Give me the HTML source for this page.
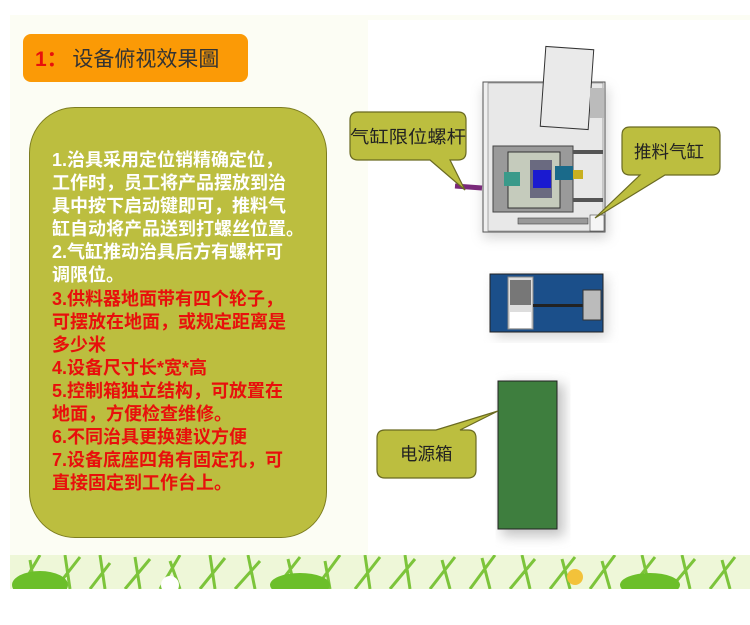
<!DOCTYPE html>
<html><head><meta charset="utf-8"><style>
body{margin:0;width:750px;height:625px;background:#fff;position:relative;overflow:hidden;font-family:"Liberation Sans","Noto Sans CJK SC",sans-serif}
.a{position:absolute}
.txt{left:52px;top:149px;width:290px;color:#fff;font-weight:bold;font-size:18px;line-height:23.1px;white-space:nowrap;font-family:"Liberation Sans","Noto Sans CJK SC",sans-serif}
.r{color:#e8100c}
</style></head><body>
<div class="a" style="left:10px;top:15px;width:740px;height:573px;background:#fcfdf4"></div>
<div class="a" style="left:368px;top:20px;width:382px;height:540px;background:#fff"></div>
<svg class="a" style="left:10px;top:555px" width="740" height="34">
<rect x="0" y="0" width="740" height="34" fill="#eef7d8"/>
<g stroke="#7cc43a" stroke-width="3" fill="none">
<path d="M10 34 L30 0 M25 34 L20 5 M45 34 L70 2 M60 34 L55 0 M80 34 L100 8 M95 34 L90 0 M115 34 L140 4 M130 34 L125 2 M150 34 L170 0 M170 34 L160 6 M190 34 L215 3 M205 34 L200 0 M225 34 L250 6 M245 34 L238 0 M265 34 L290 2 M285 34 L278 4 M305 34 L330 0 M320 34 L315 6 M345 34 L370 2 M360 34 L355 0 M380 34 L405 4 M400 34 L395 0 M420 34 L445 2 M440 34 L432 5 M460 34 L485 0 M480 34 L472 3 M500 34 L525 4 M520 34 L512 0 M540 34 L565 2 M560 34 L552 4 M580 34 L605 0 M600 34 L592 6 M620 34 L645 2 M640 34 L632 0 M660 34 L685 4 M680 34 L672 0 M700 34 L725 2 M720 34 L712 5"/>
</g>
<ellipse cx="30" cy="30" rx="28" ry="14" fill="#6cbf2a"/><ellipse cx="290" cy="30" rx="30" ry="12" fill="#6cbf2a"/><ellipse cx="640" cy="30" rx="30" ry="12" fill="#6cbf2a"/>
<circle cx="565" cy="22" r="8" fill="#f3c23a"/><circle cx="160" cy="30" r="9" fill="#fff"/>
</svg>
<div class="a" style="left:23px;top:34px;width:225px;height:48px;background:#fb9a06;border-radius:8px"></div>
<div class="a" style="left:35px;top:43px;font-size:21px;color:#333;font-family:'Noto Sans CJK SC',sans-serif;line-height:30px"><span style="color:#e8100c;font-weight:bold;font-family:'Liberation Sans',sans-serif">1：</span> 设备俯视效果圖</div>
<div class="a" style="left:29px;top:107px;width:296px;height:429px;background:#bcbe3f;border:1.5px solid #7d7d20;border-radius:46px"></div>
<div class="a txt">1.治具采用定位销精确定位，<br>工作时，员工将产品摆放到治<br>具中按下启动键即可，推料气<br>缸自动将产品送到打螺丝位置。<br>2.气缸推动治具后方有螺杆可<br>调限位。<br><span class="r">3.供料器地面带有四个轮子，<br>可摆放在地面，或规定距离是<br>多少米<br>4.设备尺寸长*宽*高<br>5.控制箱独立结构，可放置在<br>地面，方便检查维修。<br>6.不同治具更换建议方便<br>7.设备底座四角有固定孔，可<br>直接固定到工作台上。</span></div>
<svg class="a" style="left:0;top:0" width="750" height="625">
<defs><filter id="s"><feGaussianBlur stdDeviation="6"/></filter></defs>
<rect x="483" y="88" width="125" height="150" fill="#999" opacity=".4" filter="url(#s)"/>
<rect x="483" y="82" width="122" height="150" fill="#efefef" stroke="#555"/>
<rect x="488" y="83" width="115" height="148" fill="#e8e8e8" stroke="#777" stroke-width=".6"/>
<rect x="543" y="48" width="48" height="80" fill="#eaeaea" stroke="#333" transform="rotate(4 567 88)"/>
<rect x="590" y="88" width="14" height="30" fill="#bbb"/>
<rect x="493" y="146" width="80" height="66" fill="#9a9a9a" stroke="#444"/>
<rect x="508" y="152" width="52" height="56" fill="#c5cbbc" stroke="#333"/>
<rect x="530" y="160" width="22" height="38" fill="#6a6a80"/>
<rect x="533" y="170" width="18" height="18" fill="#1a1ad0"/>
<rect x="555" y="166" width="18" height="14" fill="#1a6a8a"/>
<rect x="573" y="170" width="10" height="9" fill="#c8b020"/>
<rect x="504" y="172" width="16" height="14" fill="#3a9a8a"/>
<rect x="573" y="150" width="30" height="4" fill="#555"/><rect x="573" y="198" width="30" height="4" fill="#555"/>
<rect x="518" y="218" width="70" height="6" fill="#999" stroke="#444" stroke-width=".6"/>
<rect x="590" y="215" width="14" height="16" fill="#f5f5f5" stroke="#444" stroke-width=".6"/>
<path d="M455 186 L482 188" stroke="#7a2a7a" stroke-width="5"/>
<rect x="495" y="277" width="112" height="60" fill="#aaa" opacity=".5" filter="url(#s)"/>
<rect x="490" y="274" width="113" height="58" fill="#1b4f8a" stroke="#222"/>
<rect x="508" y="277" width="25" height="52" fill="#ddd" stroke="#888"/>
<rect x="510" y="280" width="21" height="25" fill="#777"/>
<rect x="510" y="312" width="21" height="16" fill="#fff"/>
<rect x="533" y="304" width="50" height="3" fill="#222"/>
<rect x="583" y="290" width="18" height="30" fill="#bbb" stroke="#333"/>
<rect x="502" y="384" width="62" height="152" fill="#888" opacity=".5" filter="url(#s)"/>
<rect x="498" y="381" width="59" height="148" fill="#3e7e3e" stroke="#222"/>
<g fill="#bcbe3f" stroke="#6a6a22" stroke-width="1.2">
<path d="M360 112 H458 Q466 112 466 120 V152 Q466 160 458 160 H450 L465 190 L430 160 H358 Q350 160 350 152 V120 Q350 112 358 112 Z"/>
<path d="M630 127 H712 Q720 127 720 135 V167 Q720 175 712 175 H665 L595 218 L640 175 H630 Q622 175 622 167 V135 Q622 127 630 127 Z"/>
<path d="M385 430 H436 L498 411 L460 430 H468 Q476 430 476 438 V470 Q476 478 468 478 H385 Q377 478 377 470 V438 Q377 430 385 430 Z"/>
</g>
<g font-family="'Noto Sans CJK SC',sans-serif" fill="#222" font-size="17.5">
<text x="350" y="143" textLength="116" lengthAdjust="spacingAndGlyphs">气缸限位螺杆</text>
<text x="634" y="158">推料气缸</text>
<text x="400" y="460">电源箱</text>
</g>
</svg>
</body></html>
